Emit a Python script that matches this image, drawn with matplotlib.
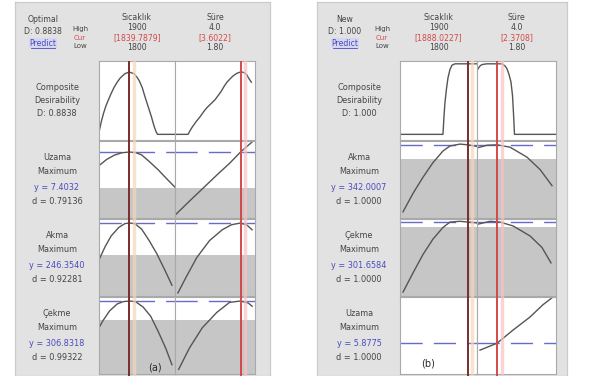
import numpy as np
import matplotlib
matplotlib.use("Agg")
import matplotlib.pyplot as plt

# ---------------------------------------------------------------- data
factor_names = ["Sıcaklık", "Süre"]
factor_high = ["1900", "4.0"]
factor_low = ["1800", "1.80"]
temp_lim = (1800, 1900)
time_lim = (1.8, 4.0)

# panel (a): optimal solution
a_temp_cur = 1839.7879
a_time_cur = 3.6022
a_D = 0.8838
a_resp_names = ["Uzama", "Akma", "Çekme"]
a_resp_y = ["7.4032", "246.3540", "306.8318"]
a_resp_d = ["0.79136", "0.92281", "0.99322"]
a_lower = [0.39, 0.53, 0.70]          # shaded region (scaled response)

a_comp_temp_x = [1800, 1803, 1806, 1809, 1812, 1816, 1820, 1824, 1828, 1834, 1839.8, 1846, 1850, 1853, 1857, 1860, 1863, 1866, 1869, 1871, 1873, 1875, 1877, 1900]
a_comp_temp_y = [0.03, 0.18, 0.30, 0.40, 0.48, 0.58, 0.67, 0.74, 0.80, 0.86, 0.884, 0.86, 0.81, 0.76, 0.66, 0.55, 0.45, 0.35, 0.25, 0.17, 0.10, 0.04, 0.0, 0.0]
a_comp_time_x = [1.8, 2.16, 2.2, 2.27, 2.38, 2.49, 2.6, 2.68, 2.8, 2.9, 3.0, 3.07, 3.15, 3.23, 3.32, 3.4, 3.5, 3.6, 3.66, 3.72, 3.78, 3.82, 3.9]
a_comp_time_y = [0.0, 0.0, 0.04, 0.10, 0.18, 0.25, 0.33, 0.38, 0.44, 0.49, 0.56, 0.61, 0.68, 0.74, 0.79, 0.83, 0.865, 0.884, 0.882, 0.87, 0.84, 0.80, 0.74]

a_uz_temp_x = [1800, 1810, 1820, 1830, 1839.8, 1848, 1856, 1866, 1878, 1890, 1900]
a_uz_temp_y = [0.68, 0.76, 0.815, 0.847, 0.857, 0.85, 0.82, 0.735, 0.625, 0.50, 0.40]
a_uz_time_x = [1.83, 2.2, 2.6, 3.0, 3.3, 3.6022, 3.95]
a_uz_time_y = [0.05, 0.22, 0.40, 0.58, 0.71, 0.857, 1.0]

a_ak_temp_x = [1800, 1808, 1816, 1826, 1834, 1839.8, 1847, 1856, 1866, 1876, 1886, 1896]
a_ak_temp_y = [0.47, 0.64, 0.78, 0.89, 0.94, 0.948, 0.94, 0.87, 0.72, 0.55, 0.35, 0.14]
a_ak_time_x = [1.88, 2.1, 2.4, 2.75, 3.1, 3.35, 3.6022, 3.78, 3.92]
a_ak_time_y = [0.04, 0.24, 0.50, 0.72, 0.86, 0.925, 0.948, 0.92, 0.86]

a_ce_temp_x = [1800, 1805, 1814, 1824, 1832, 1839.8, 1848, 1858, 1868, 1878, 1888, 1896]
a_ce_temp_y = [0.60, 0.69, 0.82, 0.91, 0.94, 0.948, 0.94, 0.87, 0.75, 0.55, 0.33, 0.12]
a_ce_time_x = [1.9, 2.2, 2.55, 2.95, 3.3, 3.6022, 3.82, 3.92]
a_ce_time_y = [0.06, 0.34, 0.60, 0.80, 0.93, 0.948, 0.92, 0.88]

# panel (b): new setting
b_temp_cur = 1888.0227
b_time_cur = 2.3708
b_D = 1.000
b_resp_names = ["Akma", "Çekme", "Uzama"]
b_resp_y = ["342.0007", "301.6584", "5.8775"]
b_resp_d = ["1.0000", "1.0000", "1.0000"]
b_lower = [0.77, 0.895, 0.0]

b_comp_temp_x = [1800, 1855.8, 1857.1, 1858.4, 1860.4, 1862.3, 1864.9, 1867.5, 1871.4, 1900]
b_comp_temp_y = [0.0, 0.0, 0.25, 0.45, 0.65, 0.80, 0.92, 0.98, 1.0, 1.0]
b_comp_time_x = [1.8, 1.828, 1.884, 1.939, 2.078, 2.496, 2.58, 2.635, 2.691, 2.747, 2.789, 2.816, 2.844, 4.0]
b_comp_time_y = [0.90, 0.93, 0.97, 0.99, 1.0, 1.0, 0.97, 0.93, 0.85, 0.74, 0.55, 0.30, 0.0, 0.0]

b_ak_temp_x = [1803.9, 1816.9, 1829.9, 1842.9, 1855.8, 1864.9, 1877.9, 1888.3, 1900]
b_ak_temp_y = [0.08, 0.32, 0.53, 0.72, 0.87, 0.935, 0.96, 0.95, 0.93]
b_ak_time_x = [1.8, 2.078, 2.357, 2.719, 3.192, 3.555, 3.889]
b_ak_time_y = [0.91, 0.945, 0.95, 0.92, 0.79, 0.63, 0.42]

b_ce_temp_x = [1803.9, 1816.9, 1829.9, 1842.9, 1855.8, 1864.9, 1877.9, 1888.3, 1900]
b_ce_temp_y = [0.05, 0.30, 0.54, 0.74, 0.89, 0.96, 0.97, 0.96, 0.95]
b_ce_time_x = [1.8, 2.162, 2.441, 2.803, 3.276, 3.61, 3.861]
b_ce_time_y = [0.93, 0.97, 0.96, 0.91, 0.78, 0.63, 0.43]

b_uz_temp_x = []
b_uz_temp_y = []
b_uz_time_x = [1.884, 2.357, 2.803, 3.276, 3.638, 3.889]
b_uz_time_y = [0.31, 0.40, 0.57, 0.74, 0.90, 0.99]

# ---------------------------------------------------------------- style
W, H = 589, 376
PANEL_BG = "#e2e2e2"
SHADE = "#c6c6c6"
CURVE = "#555555"
DASH = "#6a6ac8"
TXT = "#444444"
BLUE = "#4a4ac0"
RED = "#d24a4a"
DARKRED = "#7a2c2c"
FRAME = "#a9a9a9"

plt.rcParams["font.family"] = ["DejaVu Sans"]

fig = plt.figure(figsize=(W / 100, H / 100), dpi=100)
fig.patch.set_facecolor("white")


def fbox(x0, y0, x1, y1):
    return [x0 / W, 1 - y1 / H, (x1 - x0) / W, (y1 - y0) / H]


def ftext(x, y, s, **kw):
    kw.setdefault("ha", "center")
    kw.setdefault("va", "center")
    kw.setdefault("color", TXT)
    kw.setdefault("fontsize", 5.6)
    return fig.text(x / W, 1 - y / H, s, **kw)


def style_cell(ax):
    ax.set_xticks([])
    ax.set_yticks([])
    ax.set_facecolor("white")
    for s in ax.spines.values():
        s.set_color(FRAME)
        s.set_linewidth(0.8)


ROWS = [(61, 140), (141, 218), (219, 296), (297, 374)]


def draw_panel(px0, px1, cols, title, D, temp_cur, time_cur,
               comp, rows, names, yvals, dvals, lowers, tag, tag_xy):
    # grey panel behind everything
    bg = fig.add_axes(fbox(px0, 2, px1, H), zorder=-5)
    bg.set_xticks([])
    bg.set_yticks([])
    bg.set_facecolor(PANEL_BG)
    for s in bg.spines.values():
        s.set_color("#cbcbcb")
        s.set_linewidth(0.9)

    lab_x = px0 + 42
    dtxt = f"D: {D:.4f}" if D < 1 else f"D: {D:.3f}"
    ftext(px0 + 28, 20, title)
    ftext(px0 + 28, 32, dtxt)
    ftext(px0 + 28, 43, "Predict", color=BLUE,
          bbox=dict(facecolor="#d6d6f0", edgecolor="none", pad=0.6))
    fig.add_artist(plt.Line2D([(px0 + 16) / W, (px0 + 40) / W],
                              [1 - 47.5 / H, 1 - 47.5 / H],
                              transform=fig.transFigure, color=BLUE, lw=0.6))
    ftext(px0 + 65, 29.5, "High", fontsize=5.0)
    ftext(px0 + 65, 37.5, "Cur", fontsize=5.0, color=RED)
    ftext(px0 + 65, 45.5, "Low", fontsize=5.0)

    curs = [temp_cur, time_cur]
    cur_fmt = [f"[{temp_cur:.4f}]", f"[{time_cur:.4f}]"]
    lims = [temp_lim, time_lim]
    vcol = [DARKRED, RED]
    for ci, (cx0, cx1) in enumerate(cols):
        cxm = (cx0 + cx1) / 2
        ftext(cxm, 18, factor_names[ci])
        ftext(cxm, 28, factor_high[ci])
        ftext(cxm, 38, cur_fmt[ci], color=RED)
        ftext(cxm, 47.5, factor_low[ci])

    # composite desirability row
    for ci, (cx0, cx1) in enumerate(cols):
        ax = fig.add_axes(fbox(cx0, ROWS[0][0], cx1, ROWS[0][1]))
        ax.set_xlim(*lims[ci])
        ax.set_ylim(-0.08, 1.04)
        ax.plot(comp[ci][0], comp[ci][1], color=CURVE, lw=1.0)
        style_cell(ax)
    ym = (ROWS[0][0] + ROWS[0][1]) / 2
    ftext(lab_x, ym - 13, "Composite", fontsize=5.9)
    ftext(lab_x, ym, "Desirability", fontsize=5.9)
    ftext(lab_x, ym + 13, dtxt, fontsize=5.9)

    # response rows
    for ri, (ry0, ry1) in enumerate(ROWS[1:]):
        cx, cy = rows[ri][1]
        level = float(np.interp(time_cur, cx, cy))
        for ci, (cx0, cx1) in enumerate(cols):
            ax = fig.add_axes(fbox(cx0, ry0, cx1, ry1))
            ax.set_xlim(*lims[ci])
            ax.set_ylim(0, 1)
            if lowers[ri] > 0:
                ax.axhspan(0, lowers[ri], color=SHADE, lw=0, zorder=0)
            ax.axhline(level, color=DASH, lw=1.0, dashes=(16, 8), zorder=1)
            xs, ys = rows[ri][ci]
            if len(xs):
                ax.plot(xs, ys, color=CURVE, lw=1.0, zorder=2)
            style_cell(ax)
        yc = ry0 + 16
        ftext(lab_x, yc, names[ri], fontsize=5.9)
        ftext(lab_x, yc + 15, "Maximum", fontsize=5.9)
        ftext(lab_x, yc + 30, f"y = {yvals[ri]}", fontsize=5.9, color=BLUE)
        ftext(lab_x, yc + 45, f"d = {dvals[ri]}", fontsize=5.9)

    # current-setting lines spanning the whole column
    for ci, (cx0, cx1) in enumerate(cols):
        ov = fig.add_axes(fbox(cx0, ROWS[0][0], cx1, H), zorder=5)
        ov.set_xlim(*lims[ci])
        ov.set_ylim(0, 1)
        ov.axis("off")
        ov.patch.set_alpha(0)
        px_unit = (lims[ci][1] - lims[ci][0]) / (cx1 - cx0)
        halo = "#f5d6b8" if ci == 0 else "#f4c4c4"
        ov.axvline(curs[ci] + 4.5 * px_unit, color=halo, lw=2.5, alpha=0.7)
        ov.axvline(curs[ci], color=vcol[ci], lw=1.4)

    ftext(tag_xy[0], tag_xy[1], tag, fontsize=7.0, color="#2a2a2a", zorder=10)


draw_panel(15, 270, [(99, 175), (175, 255)], "Optimal", a_D, a_temp_cur, a_time_cur,
           [(a_comp_temp_x, a_comp_temp_y), (a_comp_time_x, a_comp_time_y)],
           [[(a_uz_temp_x, a_uz_temp_y), (a_uz_time_x, a_uz_time_y)],
            [(a_ak_temp_x, a_ak_temp_y), (a_ak_time_x, a_ak_time_y)],
            [(a_ce_temp_x, a_ce_temp_y), (a_ce_time_x, a_ce_time_y)]],
           a_resp_names, a_resp_y, a_resp_d, a_lower, "(a)", (155, 368))

draw_panel(317, 567, [(400, 477), (477, 556)], "New", b_D, b_temp_cur, b_time_cur,
           [(b_comp_temp_x, b_comp_temp_y), (b_comp_time_x, b_comp_time_y)],
           [[(b_ak_temp_x, b_ak_temp_y), (b_ak_time_x, b_ak_time_y)],
            [(b_ce_temp_x, b_ce_temp_y), (b_ce_time_x, b_ce_time_y)],
            [(b_uz_temp_x, b_uz_temp_y), (b_uz_time_x, b_uz_time_y)]],
           b_resp_names, b_resp_y, b_resp_d, b_lower, "(b)", (428, 364))

fig.savefig("out.png", dpi=100, facecolor="white")
